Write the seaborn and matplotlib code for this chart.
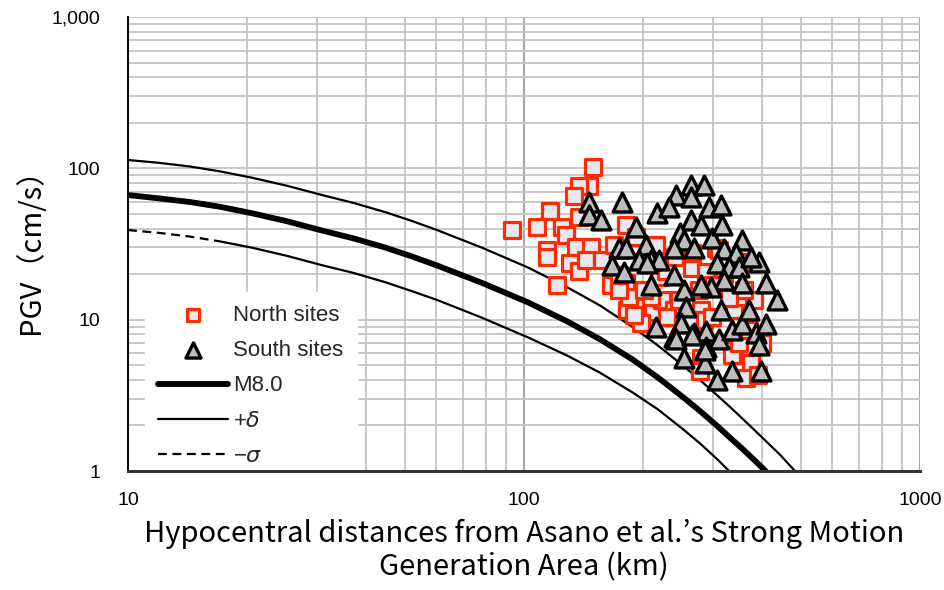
import numpy as np
import pandas as pd
import seaborn as sns
import matplotlib
matplotlib.use("Agg")
import matplotlib.pyplot as plt
import matplotlib.ticker as mticker

# ---- observed PGV at the North / South sites ----
north_dist = [149, 146, 138, 134, 116, 93, 108, 125, 138, 128, 114, 114, 135, 148,
              131, 138, 143, 157, 121, 181, 192, 169, 166, 181, 186, 199, 212, 197,
              216, 265, 182, 223, 239, 230, 280, 285, 298, 339, 349, 305, 266, 280,
              339, 374, 364, 400, 278, 288, 219, 184, 209, 335, 349, 228, 277, 311,
              370, 261, 246, 174, 174, 201, 190, 381, 360, 240, 320, 355, 300, 330,
              390]
north_pgv = [102, 77, 77, 66, 52, 39, 41, 41, 47.5, 36, 29, 26, 30, 30,
             23.6, 21, 24.7, 24.7, 17, 42, 35, 31, 17, 17.4, 13.4, 12.1, 11.2, 9.5,
             31, 22, 11.5, 13.4, 11.5, 10.4, 11.5, 9.9, 10.4, 11.5, 14.1, 29.6, 27.5, 5.6,
             6.3, 5.2, 4.1, 7.0, 4.6, 20.5, 19, 14.1, 14.1, 5.8, 7.0, 21, 15.6, 28.7,
             8.5, 9.9, 13.4, 15.6, 19.6, 15.6, 10.7, 13.4, 15.6, 26, 20, 24, 17, 14,
             4.3]

south_dist = [146, 146, 156.5, 177, 217, 192, 174, 203, 167, 179, 195, 209, 209, 215,
              242, 232, 264.5, 285, 264.5, 293, 314.5, 264.5, 280, 248, 253.5, 239, 269,
              298, 316, 320, 355, 343, 307, 329, 349, 392, 374, 408.5, 435.5, 355, 320,
              297, 280, 253.5, 239, 181, 219, 204.5, 256.5, 249, 239, 269, 288, 311,
              314.5, 335, 355, 370, 385.5, 408.5, 392, 288, 253.5, 286.5, 335, 397, 307,
              242, 266, 286.5]
south_pgv = [59.6, 48.9, 45.3, 59.6, 50.4, 40.7, 29.6, 31, 22.9, 20.5, 24.7, 24.7, 16.9, 8.9,
             66.3, 55.2, 77.2, 77.2, 64.3, 55.2, 56.9, 45.3, 42, 37.6, 33.4, 29.6, 29.6,
             34.9, 42, 29.2, 33.4, 27.4, 23.6, 22.2, 22.2, 24, 25.8, 17.4, 13.4, 17.4, 18.2,
             16.4, 16.9, 15.6, 19.6, 29.6, 24.7, 23.6, 12.1, 9.5, 7.7, 8.2, 8.4, 7.5,
             11.5, 8.5, 9.3, 11.5, 8.2, 9.3, 6.8, 6.6, 5.6, 5.2, 4.6, 4.6, 4.0,
             7.5, 7.9, 6.3]

# ---- attenuation curves ----
curve_dist = [10, 12.04, 14.34, 17.07, 20.56, 25.21, 30.90, 37.01, 44.57, 51.84,
              60.31, 78.32, 102.4, 128.4, 155.6, 188.5, 218.0, 252.0, 278.3, 307.2,
              331.3, 357.3, 383.1, 410.9, 443.2, 483.4]

plus_delta_pgv = [113.5, 108.6, 102.8, 95.5, 86.7, 76.7, 66.6, 59.2, 51.4, 45.1,
                  39.1, 29.9, 22.1, 16.4, 12.4, 8.91, 6.74, 4.97, 3.99, 3.17,
                  2.65, 2.20, 1.85, 1.55, 1.28, 1.0]

m80_dist = curve_dist[:23] + [407.3]
m80_pgv = [66.6, 63.2, 59.9, 55.7, 50.5, 44.7, 38.8, 34.5, 30.0, 26.3,
           22.8, 17.5, 13.0, 9.76, 7.42, 5.43, 4.14, 3.08, 2.49, 1.99,
           1.66, 1.39, 1.17, 1.0]

minus_sigma_dist = curve_dist[:20] + [329.4]
minus_sigma_pgv = [39.1, 37.4, 35.4, 32.9, 29.9, 26.4, 22.9, 20.4, 17.7, 15.5,
                   13.5, 10.3, 7.63, 5.80, 4.46, 3.29, 2.55, 1.89, 1.52, 1.20,
                   1.0]
dash_until = 17.07  # the -sigma curve is drawn dashed only near its start

y_ticks = [1, 10, 100, 1000]
y_tick_labels = ["1", "10", "100", "1,000"]
x_ticks = [10, 100, 1000]
x_tick_labels = ["10", "100", "1000"]

north = pd.DataFrame({"dist": north_dist, "pgv": north_pgv})
south = pd.DataFrame({"dist": south_dist, "pgv": south_pgv})
m80 = pd.DataFrame({"dist": m80_dist, "pgv": m80_pgv})
pdel = pd.DataFrame({"dist": curve_dist, "pgv": plus_delta_pgv})
msig = pd.DataFrame({"dist": minus_sigma_dist, "pgv": minus_sigma_pgv})

sns.set_theme(style="white")
plt.rcParams["font.family"] = ["Liberation Sans", "DejaVu Sans"]

fig = plt.figure(figsize=(9.44, 5.9), dpi=100)
ax = fig.add_axes([128 / 944, 1 - 471 / 590, 792 / 944, 454 / 590])
ax.set_xscale("log")
ax.set_yscale("log")
ax.set_xlim(10, 1000)
ax.set_ylim(1, 1000)

# grid (major + minor, both axes)
ax.xaxis.set_minor_locator(mticker.LogLocator(base=10, subs=np.arange(2, 10)))
ax.yaxis.set_minor_locator(mticker.LogLocator(base=10, subs=np.arange(2, 10)))
ax.grid(which="minor", color="#c4c4c4", lw=1.3, zorder=0)
ax.grid(which="major", axis="y", color="#c4c4c4", lw=1.3, zorder=0)
ax.grid(which="major", axis="x", color="#a8a8a8", lw=1.5, zorder=0)
ax.set_axisbelow(True)

# curves
sns.lineplot(data=m80, x="dist", y="pgv", ax=ax, color="black", lw=4.2,
             sort=False, estimator=None, label="M8.0", zorder=2)
sns.lineplot(data=pdel, x="dist", y="pgv", ax=ax, color="black", lw=1.6,
             sort=False, estimator=None, label="+$\\delta$", zorder=2)
sns.lineplot(data=msig[msig["dist"] <= dash_until], x="dist", y="pgv", ax=ax,
             color="black", lw=1.6, ls=(0, (4, 2.5)), sort=False, estimator=None,
             label="\u2212$\\sigma$", zorder=2)
sns.lineplot(data=msig[msig["dist"] >= dash_until], x="dist", y="pgv", ax=ax,
             color="black", lw=1.6, sort=False, estimator=None, zorder=2)

# observed sites
sns.scatterplot(data=north, x="dist", y="pgv", ax=ax, marker="s", s=135,
                color="#e8e8f0", edgecolor="#ff2a00", linewidth=2.3,
                label="North sites", zorder=3)
sns.scatterplot(data=south, x="dist", y="pgv", ax=ax, marker="^", s=185,
                color="#bdbdbd", edgecolor="black", linewidth=2.4,
                label="South sites", zorder=4)

# axes styling
for side in ("top", "right"):
    ax.spines[side].set_visible(False)
ax.spines["left"].set_color("black")
ax.spines["left"].set_linewidth(1.4)
ax.spines["left"].set_zorder(6)
ax.spines["bottom"].set_color("#333333")
ax.spines["bottom"].set_linewidth(2.2)
ax.spines["bottom"].set_zorder(6)

ax.set_yticks(y_ticks)
ax.set_yticklabels(y_tick_labels)
ax.set_xticks(x_ticks)
ax.set_xticklabels(x_tick_labels)
ax.yaxis.set_minor_formatter(mticker.NullFormatter())
ax.xaxis.set_minor_formatter(mticker.NullFormatter())
ax.tick_params(which="both", length=0)
ax.tick_params(axis="y", labelsize=14, pad=20, colors="black")
ax.tick_params(axis="x", labelsize=14, pad=15, colors="black")

ax.set_ylabel("PGV（cm/s）", fontsize=21, family=["Noto Sans CJK JP", "DejaVu Sans"],
              color="black")
ax.yaxis.set_label_coords(-0.104, 0.5)
ax.set_xlabel("Hypocentral distances from Asano et al.\u2019s Strong Motion\nGeneration Area (km)",
              fontsize=21, family=["Noto Sans CJK JP", "DejaVu Sans"],
              color="black", linespacing=1.15)
ax.xaxis.set_label_coords(0.5, -0.105)

# legend
handles, labels = ax.get_legend_handles_labels()
order = ["North sites", "South sites", "M8.0", "+$\\delta$", "\u2212$\\sigma$"]
hmap = dict(zip(labels, handles))
leg = ax.legend([hmap[k] for k in order], order, loc="lower left",
                bbox_to_anchor=(0.0215, -0.02), frameon=True, fancybox=False,
                edgecolor="white", facecolor="white", framealpha=1, fontsize=16,
                handlelength=3.15, handletextpad=0.22, labelspacing=0.64,
                borderpad=0.6, borderaxespad=0.0, markerscale=0.8)
leg.set_zorder(5)

fig.savefig("out.png", dpi=100, facecolor="white")
